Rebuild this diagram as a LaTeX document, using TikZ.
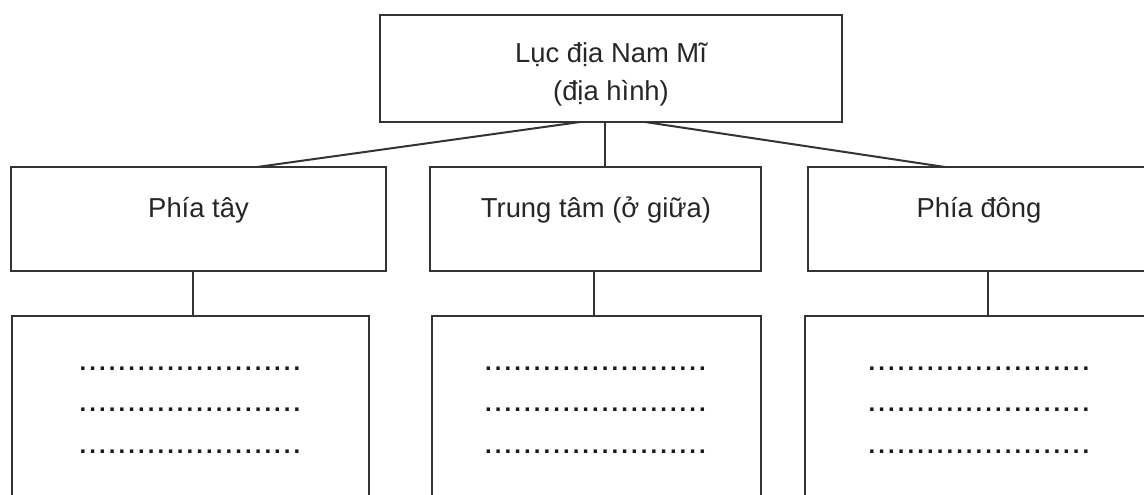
\documentclass[tikz,border=0pt]{standalone}
\usepackage{fontspec}
\setmainfont{Liberation Sans}
\newcommand{\dotrow}{\hbox to 111.8pt{\fontsize{12pt}{14pt}\selectfont\bfseries\xleaders\hbox to 4.86pt{\hss.\hss}\hfill}}
\begin{document}
\begin{tikzpicture}[x=0.5pt,y=-0.5pt,
  box/.style={draw=black!80,line width=1pt,rectangle,inner sep=0pt},
  lbl/.style={text=black!85,font=\fontsize{13.7pt}{16pt}\selectfont,anchor=base,inner sep=0pt},
  dts/.style={text=black!90,anchor=base,inner sep=0pt},
  link/.style={draw=black!80,line width=1pt}]
\path[use as bounding box] (0,0) rectangle (1144,494);
\clip (0,0) rectangle (1144,494);
% boxes
\node[box,minimum width=231pt,minimum height=53.5pt] (top) at (611,68.5) {};
\node[box,minimum width=187.5pt,minimum height=52pt] (west) at (198.5,219) {};
\node[box,minimum width=165.5pt,minimum height=52pt] (center) at (595.5,219) {};
\node[box,minimum width=171pt,minimum height=52pt] (east) at (979,219) {};
\node[box,minimum width=178.5pt,minimum height=102pt] (westb) at (190.5,418) {};
\node[box,minimum width=164.5pt,minimum height=102pt] (centerb) at (596.5,418) {};
\node[box,minimum width=174pt,minimum height=102pt] (eastb) at (979,418) {};
% texts
\node[lbl] (t1) at (611,62) {Lục địa Nam Mĩ};
\node[lbl] (t2) at (611,100) {(địa hình)};
\node[lbl] (tw) at (198.5,217) {Phía tây};
\node[lbl] (tc) at (596,217) {Trung tâm (ở giữa)};
\node[lbl] (te) at (979,217) {Phía đông};
\foreach \n/\x in {w/190,c/595.5,e/979}{
  \node[dts] (d\n1) at (\x,370) {\dotrow};
  \node[dts] (d\n2) at (\x,411) {\dotrow};
  \node[dts] (d\n3) at (\x,453) {\dotrow};
}
% connectors
\coordinate (tl) at (580,122);
\coordinate (tc0) at (605,122);
\coordinate (tr) at (645,122);
\coordinate (wl) at (257,167);
\coordinate (er) at (945,167);
\draw[link] (tl) -- (wl);
\draw[link] (tc0) -- (tc0 |- center.north);
\draw[link] (tr) -- (er);
\draw[link] ([xshift=-2.75pt]west.south) -- ([xshift=-2.75pt]west.south |- westb.north);
\draw[link] ([xshift=-0.75pt]center.south) -- ([xshift=-0.75pt]center.south |- centerb.north);
\draw[link] ([xshift=4.5pt]east.south) -- ([xshift=4.5pt]east.south |- eastb.north);
\end{tikzpicture}
\end{document}
